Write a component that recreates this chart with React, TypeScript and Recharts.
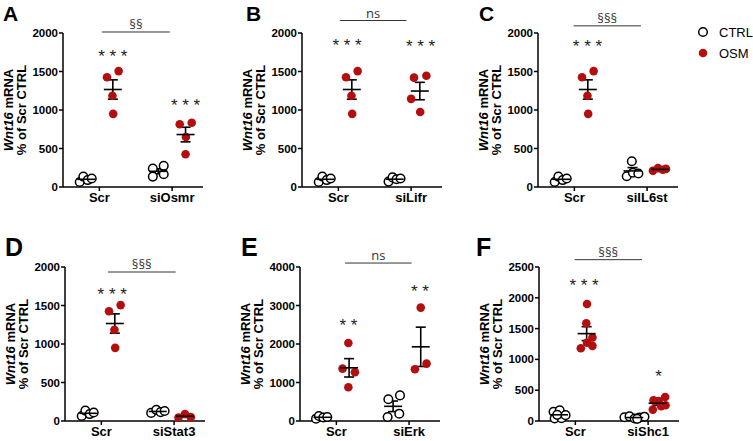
import React from 'react'
import {
  ScatterChart, Scatter, XAxis, YAxis, ErrorBar, ReferenceLine,
} from 'recharts'

// shared Scr group (panels A-D)
const scrCtrlY = [65, 135, 90, 110]
const scrCtrlX = [0.46, 0.56, 0.68, 0.79]
const scrOsmY = [1425, 1505, 1185, 950]
const scrOsmX = [1.21, 1.53, 1.36, 1.38]

// A
const siOsmrCtrlY = [240, 275, 135, 165]
const siOsmrCtrlX = [2.47, 2.77, 2.47, 2.77]
const siOsmrOsmY = [815, 835, 650, 425]
const siOsmrOsmX = [3.21, 3.54, 3.38, 3.37]
// B
const siLifrCtrlY = [70, 125, 100, 110]
const siLifrCtrlX = [2.38, 2.49, 2.6, 2.71]
const siLifrOsmY = [1420, 1445, 1145, 975]
const siLifrOsmX = [3.08, 3.42, 3.0, 3.25]
// C
const siIL6stCtrlY = [140, 335, 185, 175]
const siIL6stCtrlX = [2.44, 2.58, 2.61, 2.76]
const siIL6stOsmY = [210, 245, 225, 235]
const siIL6stOsmX = [3.16, 3.3, 3.43, 3.52]
// D
const siStat3CtrlY = [105, 145, 115, 130]
const siStat3CtrlX = [2.37, 2.51, 2.63, 2.74]
const siStat3OsmY = [45, 90, 50]
const siStat3OsmX = [3.12, 3.3, 3.46]
// E
const scrCtrlEY = [60, 130, 90, 105]
const scrCtrlEX = [0.44, 0.52, 0.64, 0.75]
const scrOsmEY = [1360, 2025, 1265, 875]
const scrOsmEX = [1.17, 1.33, 1.51, 1.33]
const siErkCtrlY = [105, 565, 665, 190]
const siErkCtrlX = [2.41, 2.43, 2.75, 2.73]
const siErkOsmY = [1345, 2945, 1490]
const siErkOsmX = [3.16, 3.32, 3.48]
// F
const scrCtrlFY = [150, 40, 175, 45, 95, 100]
const scrCtrlFX = [0.4, 0.43, 0.57, 0.62, 0.73, 0.5]
const scrOsmFY = [1180, 1900, 1585, 1355, 1220, 1270]
const scrOsmFX = [1.15, 1.32, 1.3, 1.47, 1.47, 1.32]
const siShc1CtrlY = [60, 75, 40, 55, 70, 35]
const siShc1CtrlX = [2.35, 2.49, 2.63, 2.76, 2.9, 2.7]
const siShc1OsmY = [185, 335, 325, 240, 390, 255]
const siShc1OsmX = [3.13, 3.15, 3.29, 3.36, 3.47, 3.48]

const RED = '#b30f0f'
const FONT = '"Liberation Sans", Arial, sans-serif'

type Group = { xs: number[]; ys: number[]; center: number; osm: boolean }
type Note = { x: number; y: number; text: string }
type Bracket = { x1: number; x2: number; y: number; text: string }

const pts = (xs: number[], ys: number[]) => ys.map((y, i) => ({ x: xs[i], y }))
const stat = (g: Group) => {
  const n = g.ys.length
  const m = g.ys.reduce((a, b) => a + b, 0) / n
  const sd = Math.sqrt(g.ys.reduce((a, b) => a + (b - m) ** 2, 0) / (n - 1))
  return [{ x: g.center, y: m, err: sd / Math.sqrt(n) }]
}

const openDot = (p: any) => <circle cx={p.cx} cy={p.cy} r={4.3} fill="#fff" stroke="#000" strokeWidth={1.5} />
const redDot = (p: any) => <circle cx={p.cx} cy={p.cy} r={4.3} fill={RED} />
const meanLine = (p: any) => <line x1={p.cx - 9} x2={p.cx + 9} y1={p.cy} y2={p.cy} stroke="#000" strokeWidth={1.6} />
const noteText = (p: any) => (
  <text x={p.cx} y={p.cy + 9} textAnchor="middle" fontFamily={FONT} fontSize={17} fill="#222">
    {p.payload.text}
  </text>
)

const yLabel = (props: any) => {
  const { x, y, height } = props.viewBox
  return (
    <text transform={`translate(${x + 12},${y + height / 2}) rotate(-90)`} textAnchor="middle" fontFamily={FONT} fontSize={13} fontWeight="bold" fill="#000">
      <tspan x={0} y={0}><tspan fontStyle="italic">Wnt16</tspan><tspan> mRNA</tspan></tspan>
      <tspan x={0} y={13}>% of Scr CTRL</tspan>
    </text>
  )
}

interface PanelProps {
  left: number
  top: number
  yMax: number
  yTicks: number[]
  labels: string[]
  groups: Group[]
  notes: Note[]
  bracket: Bracket
}

function Panel({ left, top, yMax, yTicks, labels, groups, notes, bracket }: PanelProps) {
  return (
    <div style={{ position: 'absolute', left, top }}>
      <ScatterChart width={212} height={224} margin={{ top: 40, right: 10, bottom: 4, left: 0 }}>
        <XAxis
          type="number" dataKey="x" domain={[0, 3.85]} ticks={[1, 3]}
          tickFormatter={(v: number) => (v === 1 ? labels[0] : labels[1])}
          height={26} tickSize={4} tickMargin={2}
          axisLine={{ stroke: '#000', strokeWidth: 1.5 }} tickLine={{ stroke: '#000', strokeWidth: 1.5 }}
          tick={{ fontSize: 13, fontWeight: 'bold', fill: '#000', fontFamily: FONT }}
        />
        <YAxis
          type="number" dataKey="y" domain={[0, yMax]} ticks={yTicks}
          width={62} tickSize={4} tickMargin={1}
          axisLine={{ stroke: '#000', strokeWidth: 1.5 }} tickLine={{ stroke: '#000', strokeWidth: 1.5 }}
          tick={{ fontSize: 11.5, fontWeight: 'bold', fill: '#000', fontFamily: FONT }}
          label={{ content: yLabel }}
        />
        <ReferenceLine
          segment={[{ x: bracket.x1, y: bracket.y }, { x: bracket.x2, y: bracket.y }]}
          ifOverflow="visible" stroke="#333" strokeWidth={1}
          label={{ value: bracket.text, position: 'top', offset: 3, fontSize: 13, fill: '#333', fontFamily: '"Open Sans", sans-serif' }}
        />
        {groups.map((g, i) => (
          <Scatter key={'p' + i} data={pts(g.xs, g.ys)} shape={g.osm ? redDot : openDot} isAnimationActive={false} />
        ))}
        {groups.map((g, i) => (
          <Scatter key={'m' + i} data={stat(g)} shape={meanLine} isAnimationActive={false}>
            <ErrorBar dataKey="err" direction="y" width={5} stroke="#000" strokeWidth={1.6} isAnimationActive={false} />
          </Scatter>
        ))}
        <Scatter data={notes} shape={noteText} isAnimationActive={false} />
      </ScatterChart>
    </div>
  )
}

const scrGroups: Group[] = [
  { xs: scrCtrlX, ys: scrCtrlY, center: 0.64, osm: false },
  { xs: scrOsmX, ys: scrOsmY, center: 1.37, osm: true },
]

const Letter = ({ ch, left, top, size }: { ch: string; left: number; top: number; size: number }) => (
  <div style={{ position: 'absolute', left, top, fontFamily: FONT, fontWeight: 'bold', fontSize: size, lineHeight: 1 }}>{ch}</div>
)

export default function App() {
  return (
    <div style={{ position: 'fixed', left: 0, top: 0, width: 753, height: 441, background: '#fff', overflow: 'hidden' }}>
      <Letter ch="A" left={3} top={3} size={21} />
      <Letter ch="B" left={246} top={3} size={21} />
      <Letter ch="C" left={479} top={3} size={21} />
      <Letter ch="D" left={5} top={235} size={25} />
      <Letter ch="E" left={241} top={235} size={25} />
      <Letter ch="F" left={476} top={235} size={25} />

      <Panel
        left={1} top={-7} yMax={2000} yTicks={[0, 500, 1000, 1500, 2000]} labels={['Scr', 'siOsmr']}
        groups={[...scrGroups,
          { xs: siOsmrCtrlX, ys: siOsmrCtrlY, center: 2.62, osm: false },
          { xs: siOsmrOsmX, ys: siOsmrOsmY, center: 3.37, osm: true }]}
        notes={[{ x: 1.37, y: 1740, text: '* * *' }, { x: 3.37, y: 1108, text: '* * *' }]}
        bracket={{ x1: 1.07, x2: 2.94, y: 2013, text: '§§' }}
      />
      <Panel
        left={240} top={-7} yMax={2000} yTicks={[0, 500, 1000, 1500, 2000]} labels={['Scr', 'siLifr']}
        groups={[...scrGroups,
          { xs: siLifrCtrlX, ys: siLifrCtrlY, center: 2.55, osm: false },
          { xs: siLifrOsmX, ys: siLifrOsmY, center: 3.24, osm: true }]}
        notes={[{ x: 1.24, y: 1887, text: '* * *' }, { x: 3.26, y: 1874, text: '* * *' }]}
        bracket={{ x1: 1.04, x2: 2.87, y: 2162, text: 'ns' }}
      />
      <Panel
        left={476} top={-7} yMax={2000} yTicks={[0, 500, 1000, 1500, 2000]} labels={['Scr', 'siIL6st']}
        groups={[...scrGroups,
          { xs: siIL6stCtrlX, ys: siIL6stCtrlY, center: 2.6, osm: false },
          { xs: siIL6stOsmX, ys: siIL6stOsmY, center: 3.35, osm: true }]}
        notes={[{ x: 1.36, y: 1866, text: '* * *' }]}
        bracket={{ x1: 0.98, x2: 2.83, y: 2093, text: '§§§' }}
      />
      <Panel
        left={3} top={227} yMax={2000} yTicks={[0, 500, 1000, 1500, 2000]} labels={['Scr', 'siStat3']}
        groups={[...scrGroups,
          { xs: siStat3CtrlX, ys: siStat3CtrlY, center: 2.55, osm: false },
          { xs: siStat3OsmX, ys: siStat3OsmY, center: 3.3, osm: true }]}
        notes={[{ x: 1.3, y: 1693, text: '* * *' }]}
        bracket={{ x1: 1.18, x2: 3.04, y: 1935, text: '§§§' }}
      />
      <Panel
        left={238} top={227} yMax={4000} yTicks={[0, 1000, 2000, 3000, 4000]} labels={['Scr', 'siErk']}
        groups={[
          { xs: scrCtrlEX, ys: scrCtrlEY, center: 0.62, osm: false },
          { xs: scrOsmEX, ys: scrOsmEY, center: 1.35, osm: true },
          { xs: siErkCtrlX, ys: siErkCtrlY, center: 2.56, osm: false },
          { xs: siErkOsmX, ys: siErkOsmY, center: 3.32, osm: true }]}
        notes={[{ x: 1.33, y: 2571, text: '* *' }, { x: 3.3, y: 3464, text: '* *' }]}
        bracket={{ x1: 1.24, x2: 3.07, y: 4103, text: 'ns' }}
      />
      <Panel
        left={477} top={227} yMax={2500} yTicks={[0, 500, 1000, 1500, 2000, 2500]} labels={['Scr', 'siShc1']}
        groups={[
          { xs: scrCtrlFX, ys: scrCtrlFY, center: 0.55, osm: false },
          { xs: scrOsmFX, ys: scrOsmFY, center: 1.31, osm: true },
          { xs: siShc1CtrlX, ys: siShc1CtrlY, center: 2.62, osm: false },
          { xs: siShc1OsmX, ys: siShc1OsmY, center: 3.26, osm: true }]}
        notes={[{ x: 1.24, y: 2249, text: '* * *' }, { x: 3.29, y: 773, text: '*' }]}
        bracket={{ x1: 0.98, x2: 2.83, y: 2619, text: '§§§' }}
      />

      <svg style={{ position: 'absolute', left: 690, top: 20 }} width={63} height={45}>
        <circle cx={13} cy={12} r={4.3} fill="#fff" stroke="#000" strokeWidth={1.5} />
        <text x={29} y={16.5} fontFamily={FONT} fontSize={13} fill="#000">CTRL</text>
        <circle cx={13} cy={33} r={4.3} fill={RED} />
        <text x={29} y={37.5} fontFamily={FONT} fontSize={13} fill="#000">OSM</text>
      </svg>
    </div>
  )
}
